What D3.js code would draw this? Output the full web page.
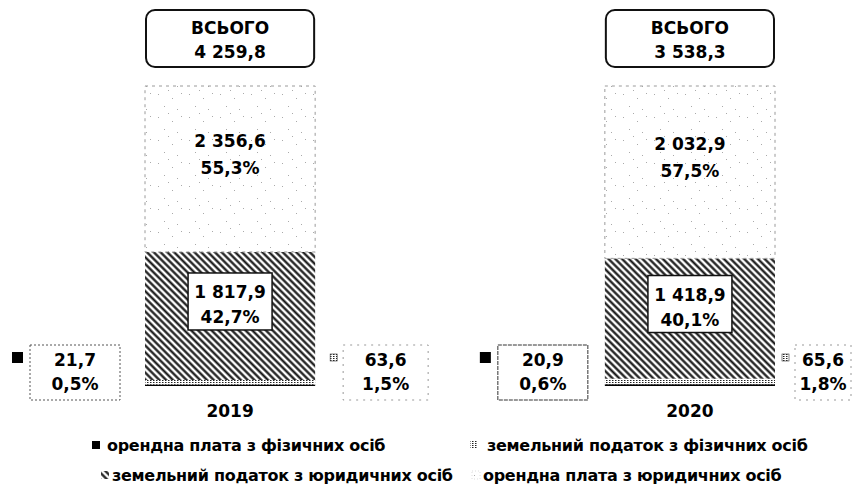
<!DOCTYPE html>
<html>
<head>
<meta charset="utf-8">
<script src="https://cdn.jsdelivr.net/npm/d3@7"></script>
<style>
  body { margin: 0; background: #fff; }
  text { font-family: "DejaVu Sans", sans-serif; font-weight: 700; fill: #000; }
</style>
</head>
<body>
<div id="chart"></div>
<script>
// data
const years = ["2019", "2020"];
const totals = [4259.8, 3538.3];
const seriesNames = [
  "орендна плата з фізичних осіб",
  "земельний податок з фізичних осіб",
  "земельний податок з юридичних осіб",
  "орендна плата з юридичних осіб"
];
const orendaFiz = [21.7, 20.9];
const zemFiz = [63.6, 65.6];
const zemYur = [1817.9, 1418.9];
const orendaYur = [2356.6, 2032.9];
const orendaFizPct = [0.5, 0.6];
const zemFizPct = [1.5, 1.8];
const zemYurPct = [42.7, 40.1];
const orendaYurPct = [55.3, 57.5];

const W = 857, H = 489;

const uaLocale = d3.formatLocale({ decimal: ",", thousands: " ", grouping: [3], currency: ["", ""] });
const fmtVal = uaLocale.format(",.1f");
const fmtPct = d => uaLocale.format(".1f")(d) + "%";

const keys = ["orendaFiz", "zemFiz", "zemYur", "orendaYur"];
const rows = years.map((y, i) => ({
  year: y,
  orendaFiz: orendaFiz[i] / totals[i] * 100,
  zemFiz: zemFiz[i] / totals[i] * 100,
  zemYur: zemYur[i] / totals[i] * 100,
  orendaYur: orendaYur[i] / totals[i] * 100
}));
const rawVals = { orendaFiz, zemFiz, zemYur, orendaYur };
const pctVals = { orendaFiz: orendaFizPct, zemFiz: zemFizPct, zemYur: zemYurPct, orendaYur: orendaYurPct };

const svg = d3.select("#chart").append("svg")
  .attr("width", W)
  .attr("height", H);

const x = d3.scaleBand()
  .domain(years)
  .range([145, 775])
  .paddingInner(0.63)
  .paddingOuter(0);

const y = d3.scaleLinear()
  .domain([0, 100])
  .range([386, 86]);

// fill patterns
const defs = svg.append("defs");

const hatch = defs.append("pattern")
  .attr("id", "hatch")
  .attr("patternUnits", "userSpaceOnUse")
  .attr("width", 4.8).attr("height", 4.8)
  .attr("patternTransform", "rotate(-45)");
hatch.append("rect").attr("width", 4.8).attr("height", 4.8).attr("fill", "#fff");
hatch.append("line")
  .attr("x1", 2.4).attr("y1", 0).attr("x2", 2.4).attr("y2", 4.8)
  .attr("stroke", "#111").attr("stroke-width", 2.2);

const dots = defs.append("pattern")
  .attr("id", "dots")
  .attr("patternUnits", "userSpaceOnUse")
  .attr("width", 3).attr("height", 2);
dots.append("rect").attr("width", 3).attr("height", 2).attr("fill", "#fff");
dots.append("rect").attr("width", 1.5).attr("height", 1).attr("fill", "#222");

const speckle = defs.append("pattern")
  .attr("id", "speckle")
  .attr("patternUnits", "userSpaceOnUse")
  .attr("width", 31).attr("height", 23);
speckle.append("rect").attr("width", 31).attr("height", 23).attr("fill", "#fff");
[[3, 2], [17, 6], [26, 1], [9, 14], [22, 17], [13, 21]].forEach(p => {
  speckle.append("rect").attr("x", p[0]).attr("y", p[1])
    .attr("width", 1).attr("height", 1).attr("fill", "#aaa");
});

const fills = {
  orendaFiz: "#000",
  zemFiz: "url(#dots)",
  zemYur: "url(#hatch)",
  orendaYur: "url(#speckle)"
};

const stacked = d3.stack().keys(keys)(rows);

// bars
const layer = svg.selectAll(".layer")
  .data(stacked)
  .join("g")
  .attr("class", "layer");

layer.selectAll("rect")
  .data(d => d.map(s => Object.assign(s, { key: d.key })))
  .join("rect")
  .attr("x", d => x(d.data.year))
  .attr("y", d => y(d[1]))
  .attr("width", x.bandwidth())
  .attr("height", d => y(d[0]) - y(d[1]))
  .attr("fill", d => fills[d.key])
  .attr("stroke", d => d.key === "orendaYur" ? "#9a9a9a" : "none")
  .attr("stroke-width", 1)
  .attr("stroke-dasharray", d => d.key === "orendaYur" ? "3,4" : null);

// labels inside the large segments
stacked.filter(s => s.key === "orendaYur").forEach(s => {
  s.forEach((d, i) => {
    const cx = x(d.data.year) + x.bandwidth() / 2;
    const c = (y(d[0]) + y(d[1])) / 2;
    svg.append("text").attr("x", cx).attr("y", c - 22).attr("text-anchor", "middle")
      .attr("font-size", 17).text(fmtVal(rawVals.orendaYur[i]));
    svg.append("text").attr("x", cx).attr("y", c + 5).attr("text-anchor", "middle")
      .attr("font-size", 17).text(fmtPct(pctVals.orendaYur[i]));
  });
});

stacked.filter(s => s.key === "zemYur").forEach(s => {
  s.forEach((d, i) => {
    const cx = x(d.data.year) + x.bandwidth() / 2;
    const top = (y(d[0]) + y(d[1])) / 2 - 15 - 28;
    svg.append("rect")
      .attr("x", cx - 42).attr("y", top)
      .attr("width", 84).attr("height", 57)
      .attr("fill", "#fff").attr("stroke", "#111").attr("stroke-width", 1.5);
    svg.append("text").attr("x", cx).attr("y", top + 25).attr("text-anchor", "middle")
      .attr("font-size", 17).text(fmtVal(rawVals.zemYur[i]));
    svg.append("text").attr("x", cx).attr("y", top + 50).attr("text-anchor", "middle")
      .attr("font-size", 17).text(fmtPct(pctVals.zemYur[i]));
  });
});

// side labels for the thin segments
const sideLeft = [{ gap: 25, w: 90 }, { gap: 17, w: 90 }];
const sideRight = [{ gap: 28, w: 85 }, { gap: 20, w: 56 }];

years.forEach((yr, i) => {
  const bx = x(yr);
  const top = y(0) - 41, h = 55;

  // left: орендна плата з фізичних осіб
  const lx1 = bx - sideLeft[i].gap, lx0 = lx1 - sideLeft[i].w;
  svg.append("rect").attr("x", lx0 - 18).attr("y", top + 7)
    .attr("width", 11).attr("height", 11).attr("fill", "#000");
  svg.append("rect").attr("x", lx0).attr("y", top).attr("width", lx1 - lx0).attr("height", h)
    .attr("fill", "none").attr("stroke", i === 0 ? "#555" : "#333")
    .attr("stroke-width", 1).attr("stroke-dasharray", i === 0 ? "2,2" : "4,1");
  const lcx = (lx0 + lx1) / 2;
  svg.append("text").attr("x", lcx).attr("y", top + 21).attr("text-anchor", "middle")
    .attr("font-size", 17).text(fmtVal(rawVals.orendaFiz[i]));
  svg.append("text").attr("x", lcx).attr("y", top + 45).attr("text-anchor", "middle")
    .attr("font-size", 17).text(fmtPct(pctVals.orendaFiz[i]));

  // right: земельний податок з фізичних осіб
  const rx0 = bx + x.bandwidth() + sideRight[i].gap, rx1 = rx0 + sideRight[i].w;
  svg.append("rect").attr("x", rx0 - 13).attr("y", top + 9)
    .attr("width", 7).attr("height", 7).attr("fill", "url(#dots)")
    .attr("stroke", "#333").attr("stroke-width", 0.6);
  svg.append("rect").attr("x", rx0).attr("y", top).attr("width", rx1 - rx0).attr("height", h)
    .attr("fill", "none").attr("stroke", "#999")
    .attr("stroke-width", 1).attr("stroke-dasharray", "2,5");
  const rcx = (rx0 + rx1) / 2;
  svg.append("text").attr("x", rcx).attr("y", top + 21).attr("text-anchor", "middle")
    .attr("font-size", 17).text(fmtVal(rawVals.zemFiz[i]));
  svg.append("text").attr("x", rcx).attr("y", top + 45).attr("text-anchor", "middle")
    .attr("font-size", 17).text(fmtPct(pctVals.zemFiz[i]));

  // total box above the bar
  svg.append("rect")
    .attr("x", bx + 1).attr("y", 10)
    .attr("width", x.bandwidth() - 2).attr("height", 57)
    .attr("rx", 9).attr("ry", 9)
    .attr("fill", "#fff").attr("stroke", "#111").attr("stroke-width", 2);
  svg.append("text").attr("x", bx + x.bandwidth() / 2).attr("y", 34).attr("text-anchor", "middle")
    .attr("font-size", 17).text("ВСЬОГО");
  svg.append("text").attr("x", bx + x.bandwidth() / 2).attr("y", 58).attr("text-anchor", "middle")
    .attr("font-size", 17).text(fmtVal(totals[i]));
});

// category axis labels (no axis line)
const xAxis = svg.append("g")
  .attr("transform", `translate(0,${y(0)})`)
  .call(d3.axisBottom(x).tickSize(0).tickPadding(19));
xAxis.select(".domain").remove();
xAxis.selectAll("text")
  .attr("font-size", 17)
  .style("font-family", "'DejaVu Sans', sans-serif")
  .style("font-weight", 700);

// legend
const legendItems = [
  { key: "orendaFiz", x: 107, y: 451, mx: -15 },
  { key: "zemFiz", x: 487, y: 451, mx: -17 },
  { key: "zemYur", x: 112, y: 481, mx: -11 },
  { key: "orendaYur", x: 483, y: 481, mx: -11 }
];
const legend = svg.append("g");
legendItems.forEach(it => {
  const k = keys.indexOf(it.key);
  const g = legend.append("g").attr("transform", `translate(${it.x},${it.y})`);
  g.append("rect").attr("x", it.mx).attr("y", -10).attr("width", 8).attr("height", 8)
    .attr("fill", fills[it.key])
    .attr("stroke", it.key === "orendaYur" ? "#bbb" : "none")
    .attr("stroke-width", 0.5)
    .attr("stroke-dasharray", "1,2");
  g.append("text").attr("x", 0).attr("y", 0)
    .attr("font-size", 16).attr("letter-spacing", -0.3)
    .text(seriesNames[k]);
});
</script>
</body>
</html>
